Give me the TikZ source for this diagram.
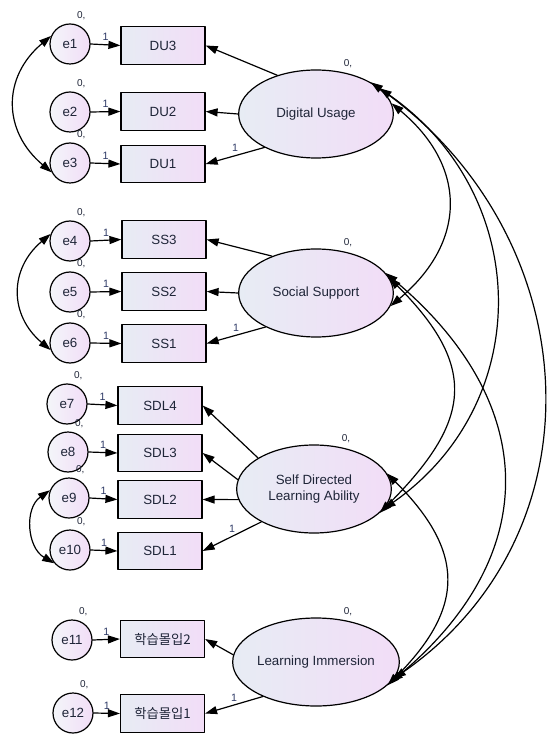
\documentclass[tikz,border=0pt]{standalone}
\usepackage{fontspec}
\setmainfont{Liberation Sans}
\newfontfamily\krfont{Noto Sans CJK KR}
\usepackage{tikz}
\usetikzlibrary{arrows.meta,shapes.geometric}
\definecolor{shadeL}{HTML}{E7ECF4}
\definecolor{shadeR}{HTML}{F2DDF7}
\definecolor{txtcol}{HTML}{1F2538}
\definecolor{onecol}{HTML}{2E3A66}

\begin{document}
\begin{tikzpicture}[line cap=round,line join=round,>={Triangle[length=9pt,width=6pt]},x=0.75pt,y=0.75pt,line width=0.9pt,
  zero/.style={font=\fontsize{7.5}{9}\selectfont,text=txtcol,inner sep=1pt},
  one/.style={font=\fontsize{8}{9}\selectfont,text=onecol,inner sep=1pt,above=1.5pt},
  err/.style={circle,draw,minimum size=30pt,inner sep=0pt,left color=shadeL!50!white,right color=shadeR,text=txtcol,font=\fontsize{10}{12}\selectfont,label={[zero,xshift=8.5pt,yshift=1pt]90:0{,}}},
  obs/.style={rectangle,draw,minimum width=63pt,minimum height=28pt,inner sep=0pt,left color=shadeL,right color=shadeR,text=txtcol,font=\fontsize{10}{12}\selectfont},
  lat/.style={ellipse,draw,minimum width=116pt,minimum height=66pt,inner sep=0pt,align=center,left color=shadeL,right color=shadeR,text=txtcol,font=\fontsize{10}{12}\selectfont,label={[zero,xshift=24pt]90:0{,}}}]
\useasboundingbox (0,0) rectangle (547,-737);

\node[lat] (DU) at (316,-114) {Digital Usage};
\node[lat] (SS) at (316,-293) {Social Support};
\node[lat] (SDL) at (314,-489) {Self Directed\\Learning Ability};
\node[lat] (LI) at (316,-662) {Learning Immersion};

\node[obs] (du3) at (163,-45.5) {DU3};
\node[obs] (du2) at (163,-111.5) {DU2};
\node[obs] (du1) at (163,-164) {DU1};
\node[obs] (ss3) at (164,-239.5) {SS3};
\node[obs] (ss2) at (164,-291.5) {SS2};
\node[obs] (ss1) at (164,-343.5) {SS1};
\node[obs] (sdl4) at (160,-405.5) {SDL4};
\node[obs] (sdl3) at (160,-453) {SDL3};
\node[obs] (sdl2) at (160,-499.5) {SDL2};
\node[obs] (sdl1) at (160,-551) {SDL1};
\node[obs] (li2) at (162.5,-639) {\krfont 학습몰입2};
\node[obs] (li1) at (162.5,-713.5) {\krfont 학습몰입1};

\node[err] (e1) at (70,-44) {e1};
\node[err] (e2) at (70,-112) {e2};
\node[err] (e3) at (70,-163) {e3};
\node[err] (e4) at (70,-241) {e4};
\node[err] (e5) at (70,-292) {e5};
\node[err] (e6) at (70,-343) {e6};
\node[err] (e7) at (67,-404) {e7};
\node[err] (e8) at (68,-452) {e8};
\node[err] (e9) at (69,-498) {e9};
\node[err] (e10) at (70,-550) {e10};
\node[err] (e11) at (72,-640) {e11};
\node[err] (e12) at (73,-713) {e12};

\draw[->] (e1.east) -- node[one] {1} (du3.west);
\draw[->] (e2.east) -- node[one] {1} (du2.west);
\draw[->] (e3.east) -- node[one] {1} (du1.west);
\draw[->] (e4.east) -- node[one] {1} (ss3.west);
\draw[->] (e5.east) -- node[one] {1} (ss2.west);
\draw[->] (e6.east) -- node[one] {1} (ss1.west);
\draw[->] (e7.east) -- node[one] {1} (sdl4.west);
\draw[->] (e8.east) -- node[one] {1} (sdl3.west);
\draw[->] (e9.east) -- node[one] {1} (sdl2.west);
\draw[->] (e10.east) -- node[one] {1} (sdl1.west);
\draw[->] (e11.east) -- node[one] {1} (li2.west);
\draw[->] (e12.east) -- node[one] {1} (li1.west);

\draw[->] (DU.135) -- (du3.east);
\draw[->] (DU.west) -- (du2.east);
\draw[->] (DU.213) -- node[one] {1} (du1.east);
\draw[->] (SS.140) -- (ss3.east);
\draw[->] (SS.west) -- (ss2.east);
\draw[->] (SS.214) -- node[one] {1} (ss1.east);
\draw[->] (SDL.151) -- (sdl4.east);
\draw[->] (SDL.173) -- (sdl3.east);
\draw[->] (SDL.188) -- (sdl2.east);
\draw[->] (SDL.212) -- node[one] {1} (sdl1.east);
\draw[->] (LI.175) -- (li2.east);
\draw[->] (LI.213) -- node[one] {1} (li1.east);

\draw[<->] (e1.157) to[out=220,in=140,looseness=1.2] (e3.207);
\draw[<->] (e4.160) to[out=220,in=140,looseness=1.2] (e6.200);
\draw[<->] (e9.158) to[out=215,in=150,looseness=1.1] (e10.220);

\draw[<->] (DU.8) to[out=-40,in=40,looseness=1.25] (SS.350);
\draw[<->] (DU.22) to[out=-35,in=35,looseness=1.13] (SDL.344);
\draw[<->] (DU.30) to[out=-35,in=35,looseness=1.12] (LI.348);
\draw[<->] (SS.16) to[out=-40,in=40,looseness=1.25] (LI.345);
\draw[<->] (SS.12) to[out=-45,in=45,looseness=1.39] (SDL.340);
\draw[<->] (SDL.12) to[out=-45,in=45,looseness=1.33] (LI.342);
\end{tikzpicture}
\end{document}
